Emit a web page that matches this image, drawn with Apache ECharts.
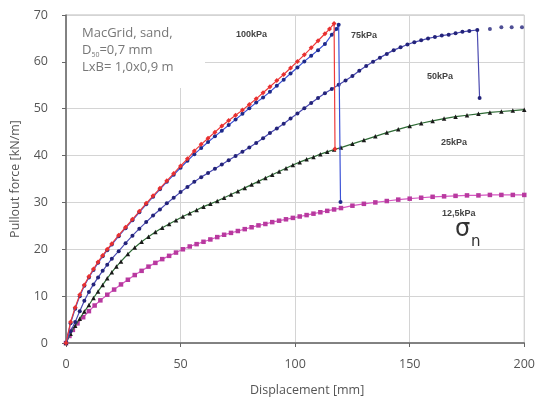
<!DOCTYPE html>
<html><head><meta charset="utf-8">
<script src="https://cdn.jsdelivr.net/npm/echarts@6/dist/echarts.min.js"></script>
<style>html,body{margin:0;padding:0;background:#fff}#c{width:538px;height:402px}</style>
</head><body><div id="c"></div>
<script>
// Displacement [mm], Pullout force [kN/m]
const s100 = [[0,0],[2,4.5],[4,7.6],[6,10.3],[8,12.4],[10,14.2],[12,15.8],[14,17.3],[16,18.7],[18,20],[20,21.2],[23,23],[26,24.7],[29,26.4],[32,28.1],[35,29.8],[38,31.4],[41,33],[44,34.6],[47,36.2],[50,37.8],[53,39.3],[56,41],[59,42.4],[62,43.7],[65,45],[68,46.3],[71,47.5],[74,48.6],[77,49.7],[80,50.9],[83,52.1],[86,53.4],[89,54.7],[92,56],[95,57.3],[98,58.7],[101,60.1],[104,61.5],[107,63],[110,64.5],[113,66],[115,67],[117,68.2],[117.4,41.4]];
const s75 = [[0,0],[2,4.2],[4,7.3],[6,10],[8,12.2],[10,14],[12,15.6],[14,17.1],[16,18.5],[18,19.8],[20,21],[23,22.8],[26,24.5],[29,26.2],[32,27.9],[35,29.6],[38,31.2],[41,32.8],[44,34.4],[47,35.9],[50,37.4],[53,38.9],[56,40.3],[59,41.6],[62,42.9],[65,44.1],[68,45.3],[71,46.5],[74,47.7],[77,48.9],[80,50.1],[83,51.3],[86,52.4],[89,53.6],[92,54.9],[95,56.2],[98,57.5],[101,58.8],[104,60.1],[107,61.3],[110,62.5],[113,63.8],[116,65.8],[118,67],[119,67.9],[119.8,30.1]];
const s50 = [[0,0],[2,2.5],[4,4.5],[6,6.8],[8,9],[10,10.9],[12,12.5],[14,14],[16,15.4],[18,16.7],[20,18],[23,19.6],[26,21.3],[29,22.9],[32,24.4],[35,25.8],[38,27.2],[41,28.5],[44,29.8],[47,31],[50,32.2],[53,33.3],[56,34.4],[59,35.4],[62,36.3],[65,37.2],[68,38.1],[71,39],[74,39.9],[77,40.8],[80,41.7],[83,42.7],[86,43.7],[89,44.8],[92,45.8],[95,46.8],[98,47.9],[101,49],[104,50.1],[107,51.2],[110,52.3],[113,53.3],[116,54.2],[119,55.1],[122,56],[125,57],[128,58.1],[131,59.1],[134,60],[137,60.9],[140,61.7],[143,62.5],[146,63.1],[149,63.7],[152,64.2],[155,64.6],[158,65],[161,65.3],[164,65.6],[167,65.8],[170,66.1],[173,66.4],[176,66.6],[179.5,66.8],[180.5,52.3]];
const s50tail = [[185,67],[190,67.4],[194.5,67.4],[199,67.4]];
const s25 = [[0,0],[2,2],[4,3.7],[6,5.2],[8,6.7],[10,8.1],[12,9.6],[14,11],[16,12.4],[18,13.8],[20,15.1],[22,16.3],[24,17.4],[27,19],[30,20.4],[33,21.6],[36,22.7],[39,23.7],[42,24.6],[45,25.4],[48,26.2],[51,27],[54,27.7],[57,28.4],[60,29.1],[63,29.7],[66,30.3],[69,31],[72,31.7],[75,32.4],[78,33.1],[81,33.8],[84,34.5],[87,35.2],[90,35.9],[93,36.6],[96,37.3],[99,38],[102,38.6],[105,39.2],[108,39.7],[111,40.3],[114,40.8],[117,41.3],[120,41.7],[125,42.5],[130,43.3],[135,44.1],[140,44.9],[145,45.6],[150,46.3],[155,46.9],[160,47.4],[165,47.9],[170,48.3],[175,48.6],[180,48.9],[185,49.2],[190,49.4],[195,49.6],[200,49.8]];
const s12 = [[0,0],[1.5,1.5],[3,2.8],[5,4.2],[7.5,5.5],[10,6.8],[12.5,8],[15,9.1],[18,10.3],[21,11.4],[24,12.5],[27,13.5],[30,14.5],[33,15.4],[36,16.3],[39,17.1],[42,17.9],[45,18.6],[48,19.3],[51,20],[54,20.6],[57,21.1],[60,21.6],[63,22.1],[66,22.6],[69,23.1],[72,23.5],[75,23.9],[78,24.3],[81,24.7],[84,25.1],[87,25.4],[90,25.8],[93,26.1],[96,26.4],[99,26.7],[102,27],[105,27.3],[108,27.6],[111,27.9],[114,28.2],[117,28.5],[120,28.8],[125,29.3],[130,29.7],[135,30],[140,30.3],[145,30.6],[150,30.8],[155,31],[160,31.2],[165,31.3],[170,31.4],[175,31.5],[180,31.5],[185,31.6],[190,31.6],[195,31.6],[200,31.6]];
const xTicks = [0,50,100,150,200];
const yTicks = [0,10,20,30,40,50,60,70];
const labels = ['100kPa','75kPa','50kPa','25kPa','12,5kPa'];

const chart = echarts.init(document.getElementById('c'));
const F = '"Open Sans", "Noto Sans", sans-serif';
function ser(data, line, mark, sym, size, z){
  return {type:'line', data:data, z:z, symbol:sym, symbolSize:size, showSymbol:true,
    lineStyle:{color:line,width:1.2}, itemStyle:{color:mark}, animation:false};
}
chart.setOption({
  animation:false,
  grid:{left:66,right:12,top:15,bottom:57,show:true,borderColor:'#bbb',borderWidth:1},
  xAxis:{type:'value',min:xTicks[0],max:xTicks[xTicks.length-1],interval:50,
    name:'Displacement [mm]',nameLocation:'middle',nameGap:41,
    nameTextStyle:{fontFamily:F,fontSize:12.5,color:'#555',padding:[0,0,0,24]},
    axisLine:{lineStyle:{color:'#666',width:1.5}},axisTick:{show:true,length:4,lineStyle:{color:'#666'}},
    axisLabel:{fontFamily:F,fontSize:12.5,color:'#555',margin:15},
    splitLine:{lineStyle:{color:'#d4d4d4'}}},
  yAxis:{type:'value',min:yTicks[0],max:yTicks[yTicks.length-1],interval:10,
    name:'Pullout force [kN/m]',nameLocation:'middle',nameGap:44,
    nameTextStyle:{fontFamily:F,fontSize:12.5,color:'#555'},
    axisLine:{show:true,lineStyle:{color:'#666',width:1.5}},axisTick:{show:true,length:4,lineStyle:{color:'#666'}},
    axisLabel:{fontFamily:F,fontSize:12.5,color:'#555',margin:18},
    splitLine:{lineStyle:{color:'#d4d4d4'}}},
  series:[
    ser(s12,'#d659c2','#b8399f','rect',4.5,2),
    ser(s25,'#2e6b35','#1a1a1a','triangle',4.5,3),
    ser(s50,'#4a4ab0','#23237a','circle',4,4),
    {type:'scatter',data:s50tail,symbol:'circle',symbolSize:4,itemStyle:{color:'#23237a'},z:4},
    ser(s75,'#3b52d6','#1e2a8a','circle',4,5),
    ser(s100,'#ee3a3a','#e83030','diamond',5,6)
  ],
  graphic:[
    {type:'rect',shape:{x:67,y:16,width:138,height:72},style:{fill:'#fff'},z:1},
    {type:'text',left:82,top:27,style:{text:'MacGrid, sand,',font:'13px '+F,fill:'#777'},z:10},
    {type:'text',left:82,top:44,style:{text:'{a|D}{s|50}{a|=0,7 mm}',font:'13px '+F,fill:'#777',
      rich:{a:{fontSize:13,fontFamily:F,fill:'#777'},s:{fontSize:7,fontFamily:F,fill:'#777',padding:[8,0,0,0]}}},z:10},
    {type:'text',left:82,top:61,style:{text:'LxB= 1,0x0,9 m',font:'13px '+F,fill:'#777'},z:10},
    {type:'text',left:236,top:30,style:{text:labels[0],font:'bold 9px "Liberation Sans", sans-serif',fill:'#444'},z:10},
    {type:'text',left:351,top:31,style:{text:labels[1],font:'bold 9px "Liberation Sans", sans-serif',fill:'#444'},z:10},
    {type:'text',left:427,top:72,style:{text:labels[2],font:'bold 9px "Liberation Sans", sans-serif',fill:'#444'},z:10},
    {type:'text',left:441,top:138,style:{text:labels[3],font:'bold 9px "Liberation Sans", sans-serif',fill:'#444'},z:10},
    {type:'text',left:442,top:209,style:{text:labels[4],font:'bold 9px "Liberation Sans", sans-serif',fill:'#444'},z:10},
    {type:'text',left:455,top:218,style:{text:'σ',font:'24px "DejaVu Sans", sans-serif',fill:'#333'},z:10},
    {type:'text',left:471,top:235,style:{text:'n',font:'15px "DejaVu Sans", sans-serif',fill:'#333'},z:10}
  ]
});
</script></body></html>
